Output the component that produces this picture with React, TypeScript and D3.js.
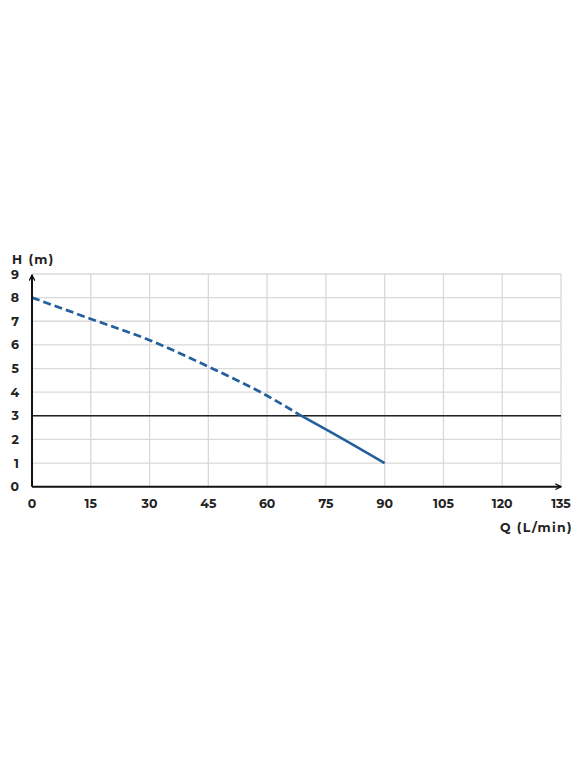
import React from "react";
import * as d3 from "d3";

const xTicks = [0, 15, 30, 45, 60, 75, 90, 105, 120, 135];
const yTicks = [0, 1, 2, 3, 4, 5, 6, 7, 8, 9];
const curveQ = [0, 15, 30, 45, 60, 68.5, 75, 90];
const curveH = [8.0, 7.1, 6.2, 5.08, 3.85, 3.02, 2.43, 1.0];
const dashedEndQ = 68.5;
const refLineH = 3;
const xLabel = "Q (L/min)";
const yLabel = "H (m)";

const W = 580;
const H = 780;
const left = 32;
const right = 561;
const top = 274;
const bottom = 486.7;

export default function App() {
  const x = d3.scaleLinear().domain([0, 135]).range([left, right]);
  const y = d3.scaleLinear().domain([0, 9]).range([bottom, top]);
  const pts = curveQ.map((q, i) => [q, curveH[i]] as [number, number]);
  const dashedPts = pts.filter((p) => p[0] <= dashedEndQ);
  const solidPts = pts.filter((p) => p[0] >= dashedEndQ);
  const line = d3
    .line<[number, number]>()
    .x((d) => x(d[0]))
    .y((d) => y(d[1]))
    .curve(d3.curveMonotoneX);
  const font = "Montserrat, Lato, 'Open Sans', sans-serif";
  const blue = "#225f9c";
  return (
    <div style={{ position: "absolute", left: 0, top: 0 }}>
      <svg width={W} height={H} style={{ display: "block", background: "#fff" }}>
        <defs>
          <marker id="arr" viewBox="0 0 10 10" refX="9" refY="5" markerWidth="7" markerHeight="7" orient="auto" markerUnits="userSpaceOnUse">
            <path d="M1,1 L9,5 L1,9" fill="none" stroke="#111" strokeWidth={1.8} />
          </marker>
        </defs>
        {xTicks.slice(1).map((t) => (
          <line key={"gx" + t} x1={x(t)} x2={x(t)} y1={y(9)} y2={y(0)} stroke="#d9d9d9" strokeWidth={1.3} />
        ))}
        {yTicks.slice(1).map((t) => (
          <line key={"gy" + t} x1={x(0)} x2={x(135)} y1={y(t)} y2={y(t)} stroke="#d9d9d9" strokeWidth={1.3} />
        ))}
        <line x1={x(0)} x2={x(135)} y1={y(refLineH)} y2={y(refLineH)} stroke="#222" strokeWidth={1.4} />
        <path d={line(dashedPts) || ""} fill="none" stroke={blue} strokeWidth={2.7} strokeDasharray="8,4" />
        <path d={line(solidPts) || ""} fill="none" stroke={blue} strokeWidth={2.6} />
        <line x1={x(0)} x2={x(135)} y1={y(0)} y2={y(0)} stroke="#111" strokeWidth={2} markerEnd="url(#arr)" />
        <line x1={x(0)} x2={x(0)} y1={y(0)} y2={y(9) + 1} stroke="#111" strokeWidth={2} markerEnd="url(#arr)" />
        {yTicks.map((t) => (
          <text key={"ty" + t} x={19} y={y(t)} dy="0.36em" textAnchor="end" fontFamily={font} fontWeight={700} fontSize={12.5} fill="#222">
            {t}
          </text>
        ))}
        {xTicks.map((t) => (
          <text key={"tx" + t} x={x(t)} y={508} textAnchor="middle" fontFamily={font} fontWeight={700} fontSize={12.5} fill="#222">
            {t}
          </text>
        ))}
        <text x={12} y={264} fontFamily={font} fontWeight={700} fontSize={12.5} letterSpacing={1.4} fill="#222">
          {yLabel}
        </text>
        <text x={573} y={532} textAnchor="end" fontFamily={font} fontWeight={700} fontSize={12.5} letterSpacing={1.4} fill="#222">
          {xLabel}
        </text>
      </svg>
    </div>
  );
}
